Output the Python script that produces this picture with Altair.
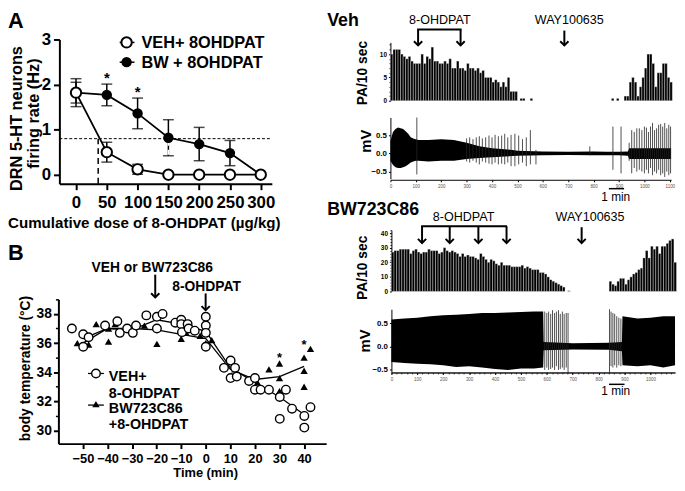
import altair as alt
import pandas as pd

# ---------------- data: panel A ----------------
dose = [0, 50, 100, 150, 200, 250, 300]
veh_rate = [1.82, 0.50, 0.12, 0.0, 0.0, 0.0, 0.0]
veh_sem = [0.23, 0.22, 0.11, 0.0, 0.0, 0.0, 0.0]
bw_rate = [1.82, 1.77, 1.36, 0.82, 0.68, 0.48, 0.0]
bw_sem = [0.31, 0.24, 0.34, 0.40, 0.37, 0.28, 0.0]
half_rate = 0.8
veh_half_dose = 36
bw_half_dose = 150
sig_dose = [50, 100]
sig_level = [2.2, 1.9]

# ---------------- data: panel B ----------------
vehB_t = [-54.5, -49.9, -49.9, -47.7, -41, -36, -35, -32, -29.7, -28.4, -24.2, -19.9, -19.9, -17.6,
          -12.4, -10, -10, -9.7, -7.4, -7, -4.5, 0, 0, 0, 0, 7.4, 10.1, 10.1, 11.9, 12.6, 17.6,
          20, 20, 22.3, 25.7, 30.1, 30.1, 32.6, 35.1, 40.1, 40.1, 42.6]
vehB_T = [37.0, 36.6, 35.75, 36.4, 37.2, 37.5, 36.7, 37.0, 36.7, 37.2, 37.9, 37.0, 37.8, 38.0,
          37.4, 37.6, 37.3, 36.75, 37.3, 37.0, 36.85, 37.8, 37.2, 36.7, 35.75, 34.3, 34.8, 33.6, 34.3, 33.7, 33.4,
          33.6, 32.8, 32.8, 32.8, 32.3, 30.8, 32.8, 31.5, 31.0, 30.2, 31.6]
bwB_t = [-52.3, -47.7, -44.6, -39.6, -39.6, -36.9, -25, -19.9, -10, -8, -2.3, 0, 0, 2.4, 11.8,
         21, 25.7, 30, 30, 30, 40, 40, 40, 42.6]
bwB_T = [36.0, 35.9, 37.3, 37.0, 36.1, 37.3, 37.2, 35.95, 36.3, 36.7, 36.5, 37.4, 36.0, 36.2, 34.2,
         33.3, 34.2, 34.6, 33.6, 32.7, 35.0, 34.1, 33.0, 35.6]
line_t = [-50, -40, -30, -20, -10, 0, 10, 20, 30, 40]
vehB_mean = [36.3, 37.0, 36.9, 37.6, 37.3, 36.8, 34.3, 33.3, 32.3, 31.1]
bwB_mean = [36.0, 37.0, 37.0, 36.9, 36.6, 36.3, 34.2, 33.5, 33.7, 34.4]
sigB_t = [30, 40]
sigB_T = [35.2, 36.1]

# ---------------- data: spike histograms (PA / 10 s) ----------------
veh_pa_a = [10, 11, 11, 11, 10, 9.5, 9, 9.5, 8.5, 8, 8, 8, 10, 8, 9.5, 9, 11.5, 8.5, 8.5, 8,
            8, 8.5, 8, 9, 7, 7, 8.5, 7, 7, 6.5, 8, 7, 7, 6.5, 7, 6, 6.5, 5, 5, 5,
            4, 4.5, 4, 3, 4, 3, 5, 2, 2, 2]
veh_pa_a_start = 0
veh_pa_dots = [510, 520, 550, 870, 890]
veh_pa_b = [1, 1, 4, 5, 4, 1, 3, 5, 7, 10, 10, 8, 3, 6, 6, 8, 8, 5, 4]
veh_pa_b_start = 920

bw_pa_a = [27, 28, 28, 29, 29, 29, 29, 26, 28, 29, 27, 26, 27, 27, 29, 28, 28, 28, 26, 27,
           30, 28, 27, 28, 27, 26, 24, 26, 24, 25, 24, 24, 23, 22, 26, 24, 22, 20, 22, 21,
           19, 18, 20, 18, 18, 18, 17, 17, 17, 17, 18, 16, 17, 16, 15, 15, 15, 13, 13, 12,
           10, 8, 7, 6, 5, 4, 3]
bw_pa_a_start = 0
bw_pa_dots = [680]
bw_pa_b = [7, 5, 4, 7, 9, 9, 5, 8, 10, 12, 13, 15, 16, 23, 28, 23, 31, 29, 31, 26,
           31, 31, 33, 35, 36, 20]
bw_pa_b_start = 840
dot_level = 0.5

# ---------------- data: extracellular traces (envelopes, mV) ----------------
veh_env_t = [0, 10, 20, 30, 40, 50, 60, 70, 80, 90, 100, 110, 150, 200, 250, 300, 350, 400,
             450, 480, 500, 600, 700, 800, 850, 900, 935, 940, 1000, 1050, 1105]
veh_env_hi = [0.35, 0.6, 0.68, 0.72, 0.7, 0.68, 0.62, 0.55, 0.45, 0.42, 0.4, 0.38, 0.38, 0.4, 0.38,
              0.3, 0.2, 0.15, 0.12, 0.1, 0.08, 0.06, 0.05, 0.06, 0.05, 0.05, 0.06, 0.15, 0.15, 0.15, 0.15]
veh_env_lo = [-0.2, -0.32, -0.38, -0.4, -0.4, -0.38, -0.35, -0.3, -0.25, -0.22, -0.2, -0.2, -0.22, -0.2,
              -0.2, -0.15, -0.12, -0.1, -0.08, -0.07, -0.06, -0.05, -0.04, -0.05, -0.05, -0.05, -0.06,
              -0.15, -0.15, -0.15, -0.15]
veh_spk_t = [104, 300, 312, 325, 338, 350, 362, 375, 388, 400, 412, 425, 438, 450, 462, 475, 490, 505,
             520, 535, 551, 573, 785, 876, 908, 940, 950, 960, 970, 980, 990, 1000, 1008, 1016, 1024,
             1032, 1040, 1048, 1056, 1064, 1072, 1080, 1088, 1096, 1103]
veh_spk_hi = [1.0, 0.42, 0.45, 0.4, 0.45, 0.48, 0.42, 0.45, 0.5, 0.45, 0.52, 0.48, 0.5, 0.55, 0.45,
              0.52, 0.55, 0.5, 0.4, 0.45, 0.65, 0.1, 0.2, 0.75, 0.75, 0.3, 0.65, 0.6, 0.7, 0.7, 0.65,
              0.75, 0.72, 0.6, 0.75, 0.85, 0.65, 0.7, 0.8, 0.82, 0.75, 0.85, 0.7, 0.8, 0.75]
veh_spk_lo = [-0.58, -0.22, -0.25, -0.2, -0.25, -0.3, -0.22, -0.25, -0.28, -0.3, -0.25, -0.3, -0.28,
              -0.3, -0.25, -0.35, -0.35, -0.3, -0.25, -0.35, -0.3, -0.3, -0.05, -0.45, -0.55, -0.2,
              -0.55, -0.4, -0.5, -0.45, -0.5, -0.55, -0.45, -0.55, -0.4, -0.6, -0.5, -0.55, -0.45,
              -0.6, -0.55, -0.65, -0.5, -0.6, -0.55]

bw_env_t = [0, 50, 100, 150, 200, 250, 300, 350, 400, 450, 500, 550, 586, 588, 700, 840, 890, 892,
            950, 1000, 1050, 1095]
bw_env_hi = [0.58, 0.6, 0.62, 0.65, 0.67, 0.68, 0.7, 0.72, 0.72, 0.73, 0.74, 0.75, 0.75, 0.1, 0.07,
             0.08, 0.1, 0.65, 0.6, 0.62, 0.65, 0.65]
bw_env_lo = [-0.33, -0.35, -0.37, -0.38, -0.4, -0.44, -0.42, -0.45, -0.48, -0.5, -0.47, -0.47, -0.45,
             -0.08, -0.06, -0.07, -0.1, -0.4, -0.42, -0.4, -0.45, -0.4]
bw_spk_t = [592, 600, 607, 615, 622, 630, 637, 645, 652, 660, 667, 675, 682, 842, 848, 855, 862, 870, 878, 886]
bw_spk_hi = [0.75, 0.72, 0.75, 0.7, 0.78, 0.72, 0.75, 0.78, 0.7, 0.75, 0.7, 0.72, 0.72, 0.8, 0.75,
             0.72, 0.7, 0.65, 0.62, 0.6]
bw_spk_lo = [-0.5, -0.45, -0.5, -0.48, -0.45, -0.5, -0.42, -0.5, -0.48, -0.45, -0.5, -0.45, -0.57,
             -0.57, -0.42, -0.45, -0.4, -0.45, -0.4, -0.42]
scale_bar_veh = [860, 920]
scale_bar_bw = [840, 900]
trace_ticks = list(range(0, 1101, 100))

# ---------------- layout helpers ----------------
W, H = 677, 475
OX, OY = 8, 8
FONT = "Liberation Sans"
ONE = pd.DataFrame({"k": [0]})
CHEV = "M-1,-1L0,0L1,-1"


def X(p):
    return p - OX


def Y(p):
    return p - OY


def sx(domain, left, right):
    return alt.Scale(domain=domain, range=[X(left), X(right)], nice=False, zero=False)


def sy(domain, bottom, top):
    return alt.Scale(domain=domain, range=[Y(bottom), Y(top)], nice=False, zero=False)


def axis_bottom(ypix, values, size, font=FONT, weight="bold", tick=5, width=1.5, pad=3,
                labels=True, color="black", fmt=None):
    kw = dict(orient="bottom", offset=Y(ypix) - H, values=values, labelFontSize=size, labelFont=font,
              labelFontWeight=weight, tickSize=tick, tickWidth=width, domainWidth=width,
              labelPadding=pad, title=None, grid=False, domainColor="black", tickColor="black",
              labelColor=color, labels=labels, labelOverlap=False, labelFlush=False)
    if fmt:
        kw["format"] = fmt
    return alt.Axis(**kw)


def axis_left(xpix, values, size, font=FONT, weight="bold", tick=5, width=1.5, pad=3,
              labels=True, fmt=None, domain=True):
    kw = dict(orient="left", offset=-X(xpix), values=values, labelFontSize=size, labelFont=font,
              labelFontWeight=weight, tickSize=tick, tickWidth=width, domainWidth=width,
              labelPadding=pad, title=None, grid=False, domainColor="black", tickColor="black",
              labelColor="black", labels=labels, labelOverlap=False, labelFlush=False, domain=domain)
    if fmt:
        kw["format"] = fmt
    return alt.Axis(**kw)


def text(s, x, y, size, weight="bold", align="left", angle=0, baseline="alphabetic", font=FONT):
    return alt.Chart(ONE).mark_text(text=s, fontSize=size, fontWeight=weight, align=align, angle=angle,
                                    baseline=baseline, font=font, color="black").encode(
        x=alt.value(X(x)), y=alt.value(Y(y)))


def vrule(x, y0, y1, width=2.0, dash=None, color="black"):
    kw = dict(color=color, strokeWidth=width)
    if dash:
        kw["strokeDash"] = dash
    return alt.Chart(ONE).mark_rule(**kw).encode(x=alt.value(X(x)), y=alt.value(Y(y0)), y2=alt.value(Y(y1)))


def hrule(x0, x1, y, width=2.0):
    return alt.Chart(ONE).mark_rule(color="black", strokeWidth=width).encode(
        x=alt.value(X(x0)), x2=alt.value(X(x1)), y=alt.value(Y(y)))


def arrow(x, y0, y1, width=2.0, head=70):
    head_mark = alt.Chart(ONE).mark_point(shape=CHEV, filled=False, size=head, strokeWidth=width,
                                          color="black", opacity=1).encode(x=alt.value(X(x)), y=alt.value(Y(y1)))
    return [vrule(x, y0, y1, width), head_mark]


def marker(x, y, shape, filled, size, sw=1.5):
    return alt.Chart(ONE).mark_point(shape=shape, filled=filled, size=size, strokeWidth=sw, color="black",
                                     fill="black" if filled else "white", opacity=1).encode(
        x=alt.value(X(x)), y=alt.value(Y(y)))


layers = []

# =============== Panel A ===============
xA = sx([-27, 318], 60, 275)
yA = sy([-0.2, 3], 183, 37)
dfA = pd.DataFrame({
    "series": ["VEH"] * len(dose) + ["BW"] * len(dose),
    "dose": dose + dose,
    "rate": veh_rate + bw_rate,
    "lo": [r - s for r, s in zip(veh_rate, veh_sem)] + [r - s for r, s in zip(bw_rate, bw_sem)],
    "hi": [r + s for r, s in zip(veh_rate, veh_sem)] + [r + s for r, s in zip(bw_rate, bw_sem)],
})
dfA_err = dfA[dfA["hi"] > dfA["lo"]]
baseA = alt.Chart(dfA)

dash_h = pd.DataFrame({"x0": [-27], "x1": [318], "y": [half_rate]})
layers.append(alt.Chart(dash_h).mark_rule(color="black", strokeWidth=1, strokeDash=[3, 2]).encode(
    x=alt.X("x0:Q", scale=xA, axis=None), x2="x1:Q", y=alt.Y("y:Q", scale=yA, axis=None)))
dash_v = pd.DataFrame({"x": [veh_half_dose], "y0": [-0.2], "y1": [half_rate]})
layers.append(alt.Chart(dash_v).mark_rule(color="black", strokeWidth=1.5, strokeDash=[6, 4]).encode(
    x=alt.X("x:Q", scale=xA, axis=None), y=alt.Y("y0:Q", scale=yA, axis=None), y2="y1:Q"))

layers.append(alt.Chart(dfA_err).mark_rule(color="black", strokeWidth=1.5).encode(
    x=alt.X("dose:Q", scale=xA, axis=None), y=alt.Y("lo:Q", scale=yA, axis=None), y2="hi:Q"))
for col in ["lo", "hi"]:
    layers.append(alt.Chart(dfA_err).mark_tick(color="black", thickness=1.5, size=11, orient="horizontal").encode(
        x=alt.X("dose:Q", scale=xA, axis=None), y=alt.Y(f"{col}:Q", scale=yA, axis=None)))
bw_cross = pd.DataFrame({"x": [bw_half_dose], "y0": [0.05], "y1": [half_rate]})
layers.append(alt.Chart(bw_cross).mark_rule(color="white", strokeWidth=1.5, strokeDash=[5, 4]).encode(
    x=alt.X("x:Q", scale=xA, axis=None), y=alt.Y("y0:Q", scale=yA, axis=None), y2="y1:Q"))

layers.append(baseA.mark_line(color="black", strokeWidth=1.8).encode(
    x=alt.X("dose:Q", scale=xA, axis=axis_bottom(183, dose, 17, tick=6, width=2, pad=5)),
    y=alt.Y("rate:Q", scale=yA, axis=axis_left(60, [0, 1, 2, 3], 17, tick=6, width=2, pad=3, fmt="d")),
    detail="series:N"))
layers.append(alt.Chart(dfA[dfA.series == "BW"]).mark_point(shape="circle", filled=True, size=110, color="black",
                                                            opacity=1).encode(
    x=alt.X("dose:Q", scale=xA, axis=None), y=alt.Y("rate:Q", scale=yA, axis=None)))
layers.append(alt.Chart(dfA[dfA.series == "VEH"]).mark_point(shape="circle", filled=False, size=110,
                                                             strokeWidth=2, color="black", fill="white",
                                                             opacity=1).encode(
    x=alt.X("dose:Q", scale=xA, axis=None), y=alt.Y("rate:Q", scale=yA, axis=None)))
sigA = pd.DataFrame({"x": sig_dose, "y": sig_level})
layers.append(alt.Chart(sigA).mark_text(text="*", fontSize=15, fontWeight="bold", font=FONT, dy=8,
                                        baseline="alphabetic").encode(
    x=alt.X("x:Q", scale=xA, axis=None), y=alt.Y("y:Q", scale=yA, axis=None)))

layers += [hrule(121, 136, 40, 1.5), marker(128, 40, "circle", False, 110, 2),
           text("VEH+ 8OHDPAT", 143, 45.5, 16.5),
           hrule(121, 136, 60, 1.5), marker(128, 60, "circle", True, 110),
           text("BW + 8OHDPAT", 143, 65.5, 16.5)]
layers += [text("A", 8, 25, 22),
           text("DRN 5-HT neurons", 17.5, 117, 16.5, angle=270, align="center", baseline="middle"),
           text("firing rate (Hz)", 34, 112, 16.5, angle=270, align="center", baseline="middle"),
           text("Cumulative dose of 8-OHDPAT (\u00b5g/kg)", 8, 228, 15.3)]

# =============== Panel B ===============
xB = sx([-60, 49], 59, 330)
yB = sy([29.1, 39], 446, 300)
dfBl = pd.DataFrame({"t": line_t + line_t, "T": vehB_mean + bwB_mean,
                     "s": ["VEH"] * len(line_t) + ["BW"] * len(line_t)})
layers.append(alt.Chart(dfBl).mark_line(color="black", strokeWidth=1.3).encode(
    x=alt.X("t:Q", scale=xB, axis=axis_bottom(446, list(range(-50, 41, 10)), 13, tick=5, width=2, pad=4)),
    y=alt.Y("T:Q", scale=yB, axis=axis_left(59, [30, 32, 34, 36, 38], 14, tick=5, width=2, pad=2)),
    detail="s:N"))
minorB = pd.DataFrame({"T": [31, 33, 35, 37]})
layers.append(alt.Chart(minorB).mark_point(opacity=0).encode(
    y=alt.Y("T:Q", scale=yB, axis=axis_left(59, [31, 33, 35, 37, 39], 10, tick=3, width=1.5, labels=False,
                                             domain=False))))
layers.append(alt.Chart(pd.DataFrame({"t": bwB_t, "T": bwB_T})).mark_point(
    shape="triangle-up", filled=True, size=55, color="black", opacity=1).encode(
    x=alt.X("t:Q", scale=xB, axis=None), y=alt.Y("T:Q", scale=yB, axis=None)))
layers.append(alt.Chart(pd.DataFrame({"t": vehB_t, "T": vehB_T})).mark_point(
    shape="circle", filled=False, size=75, strokeWidth=1.4, color="black", fill="white", opacity=1).encode(
    x=alt.X("t:Q", scale=xB, axis=None), y=alt.Y("T:Q", scale=yB, axis=None)))
layers.append(alt.Chart(pd.DataFrame({"t": sigB_t, "T": sigB_T})).mark_text(
    text="*", fontSize=13, fontWeight="bold", font=FONT, dy=7, baseline="alphabetic").encode(
    x=alt.X("t:Q", scale=xB, axis=None), y=alt.Y("T:Q", scale=yB, axis=None)))
layers += [text("B", 8, 260, 22),
           text("VEH or BW723C86", 154, 272, 14, align="center"),
           text("8-OHDPAT", 209, 292, 14, align="center"),
           text("body temperature (\u00b0C)", 26, 370, 14, angle=270, align="center", baseline="middle"),
           text("Time (min)", 208, 480, 13, align="center")]
layers += arrow(157, 275, 298) + arrow(208, 294, 311)
layers += [hrule(89, 105, 375, 1.3), marker(97, 375, "circle", False, 75, 1.4),
           text("VEH+", 110, 383, 14.5), text("8-OHDPAT", 110, 400, 14.5),
           hrule(89, 105, 407, 1.3), marker(97, 406, "triangle-up", True, 55),
           text("BW723C86", 110, 415, 14.5), text("+8-OHDPAT", 110, 431, 14.5)]


# =============== right side: histograms and traces ===============
def hist_df(vals, start):
    return pd.DataFrame({"t0": [start + 10 * i for i in range(len(vals))],
                         "t1": [start + 10 * i + 10 for i in range(len(vals))],
                         "v": vals, "z": [0] * len(vals)})


def hist_layers(parts, xs, ys, yaxis):
    out = []
    for i, df in enumerate(parts):
        out.append(alt.Chart(df).mark_bar(color="black", stroke="white", strokeWidth=0.35).encode(
            x=alt.X("t0:Q", scale=xs, axis=None), x2="t1:Q",
            y=alt.Y("v:Q", scale=ys, axis=yaxis if i == 0 else None), y2="z:Q"))
    return out


# --- Veh ---
xVh = sx([0, 1105], 395, 679)
yVh = sy([0, 12.5], 99, 40)
veh_parts = [hist_df(veh_pa_a, veh_pa_a_start),
             pd.DataFrame({"t0": veh_pa_dots, "t1": [t + 10 for t in veh_pa_dots],
                           "v": [dot_level] * len(veh_pa_dots), "z": [0] * len(veh_pa_dots)}),
             hist_df(veh_pa_b, veh_pa_b_start)]
layers += hist_layers(veh_parts, xVh, yVh, axis_left(395, [0, 5, 10], 6.5, tick=2, width=1, pad=2))
layers.append(alt.Chart(pd.DataFrame({"v": [1, 2, 3, 4, 6, 7, 8, 9, 11, 12]})).mark_point(opacity=0).encode(
    y=alt.Y("v:Q", scale=yVh, axis=axis_left(395, [1, 2, 3, 4, 6, 7, 8, 9, 11, 12], 6, tick=1.5, width=0.8,
                                             labels=False, domain=False))))

xVt = sx([0, 1105], 395, 679)
yVt = sy([-0.7, 1.0], 178, 116)
layers.append(alt.Chart(pd.DataFrame({"t": veh_env_t, "hi": veh_env_hi, "lo": veh_env_lo})).mark_area(
    color="black", opacity=1).encode(
    x=alt.X("t:Q", scale=xVt, axis=axis_bottom(179, trace_ticks, 4.5, weight="normal", tick=2, width=1, pad=2,
                                              color="#555", fmt="d")),
    y=alt.Y("hi:Q", scale=yVt, axis=axis_left(395, [-0.5, 0, 0.5], 8, tick=2, width=1, pad=2, fmt=".1f")),
    y2="lo:Q"))
layers.append(alt.Chart(pd.DataFrame({"t": veh_spk_t, "hi": veh_spk_hi, "lo": veh_spk_lo})).mark_rule(
    color="#222", strokeWidth=0.8).encode(
    x=alt.X("t:Q", scale=xVt, axis=None), y=alt.Y("hi:Q", scale=yVt, axis=None), y2="lo:Q"))
layers.append(alt.Chart(pd.DataFrame({"a": [scale_bar_veh[0]], "b": [scale_bar_veh[1]]})).mark_rule(
    color="black", strokeWidth=1.5).encode(
    x=alt.X("a:Q", scale=xVt, axis=None), x2="b:Q", y=alt.value(Y(188))))
layers += [text("Veh", 331, 23, 18),
           text("8-OHDPAT", 445, 21, 12.7, weight="normal", align="center"),
           text("WAY100635", 576, 21, 12.7, weight="normal", align="center"),
           text("PA/10 sec", 367.5, 71, 14, angle=270, align="center", baseline="middle"),
           text("mV", 370, 140, 15, angle=270, align="center", baseline="middle"),
           text("1 min", 623, 200, 12, weight="normal", align="center")]
layers += [hrule(422, 467, 27, 2)] + arrow(423, 27, 43) + arrow(466, 27, 43) + arrow(571, 28, 43)

# --- BW723C86 ---
xBh = sx([0, 1100], 396, 684.5)
yBh = sy([0, 42], 292, 230)
bw_parts = [hist_df(bw_pa_a, bw_pa_a_start),
            pd.DataFrame({"t0": bw_pa_dots, "t1": [t + 10 for t in bw_pa_dots],
                          "v": [dot_level] * len(bw_pa_dots), "z": [0] * len(bw_pa_dots)}),
            hist_df(bw_pa_b, bw_pa_b_start)]
layers += hist_layers(bw_parts, xBh, yBh, axis_left(396, [0, 10, 20, 30, 40], 6.5, tick=2, width=1, pad=2))
layers.append(alt.Chart(pd.DataFrame({"v": [5, 15, 25, 35]})).mark_point(opacity=0).encode(
    y=alt.Y("v:Q", scale=yBh, axis=axis_left(396, [2, 4, 6, 8, 12, 14, 16, 18, 22, 24, 26, 28, 32, 34, 36, 38, 42],
                                             6, tick=1.5, width=0.8, labels=False, domain=False))))

xBt = sx([0, 1095], 396, 683)
yBt = sy([-0.555, 0.8], 374, 310)
layers.append(alt.Chart(pd.DataFrame({"t": bw_env_t, "hi": bw_env_hi, "lo": bw_env_lo})).mark_area(
    color="black", opacity=1).encode(
    x=alt.X("t:Q", scale=xBt, axis=axis_bottom(374, list(range(0, 1001, 100)), 4.5, weight="normal", tick=2,
                                              width=1, pad=2, color="#555", fmt="d")),
    y=alt.Y("hi:Q", scale=yBt, axis=axis_left(396, [-0.5, 0, 0.5], 8, tick=2, width=1, pad=2, fmt=".1f")),
    y2="lo:Q"))
layers.append(alt.Chart(pd.DataFrame({"t": list(range(0, 1091, 20))})).mark_point(opacity=0).encode(
    x=alt.X("t:Q", scale=xBt, axis=axis_bottom(374, list(range(0, 1091, 20)), 4, weight="normal", tick=1.5,
                                              width=0.7, labels=False))))
layers.append(alt.Chart(pd.DataFrame({"t": bw_spk_t, "hi": bw_spk_hi, "lo": bw_spk_lo})).mark_rule(
    color="#222", strokeWidth=0.8).encode(
    x=alt.X("t:Q", scale=xBt, axis=None), y=alt.Y("hi:Q", scale=yBt, axis=None), y2="lo:Q"))
layers.append(alt.Chart(pd.DataFrame({"a": [scale_bar_bw[0]], "b": [scale_bar_bw[1]]})).mark_rule(
    color="black", strokeWidth=1.5).encode(
    x=alt.X("a:Q", scale=xBt, axis=None), x2="b:Q", y=alt.value(Y(386))))
layers += [text("BW723C86", 331, 215, 18),
           text("8-OHDPAT", 469, 220.5, 12.7, weight="normal", align="center"),
           text("WAY100635", 597, 220.5, 12.7, weight="normal", align="center"),
           text("PA/10 sec", 367.5, 268, 14, angle=270, align="center", baseline="middle"),
           text("mV", 369, 342, 15, angle=270, align="center", baseline="middle"),
           text("1 min", 623, 397, 12, weight="normal", align="center")]
layers += [hrule(426, 513, 226, 2)]
for ax in [427, 455, 484, 512.5]:
    layers += arrow(ax, 226, 243)
layers += arrow(588.5, 227, 243)

chart = alt.layer(*layers).resolve_scale(x="independent", y="independent").properties(
    width=W, height=H, autosize=alt.AutoSizeParams(type="none"), padding=0
).configure_view(stroke=None)

chart.save("out.html", embed_options={"renderer": "svg", "actions": False})
